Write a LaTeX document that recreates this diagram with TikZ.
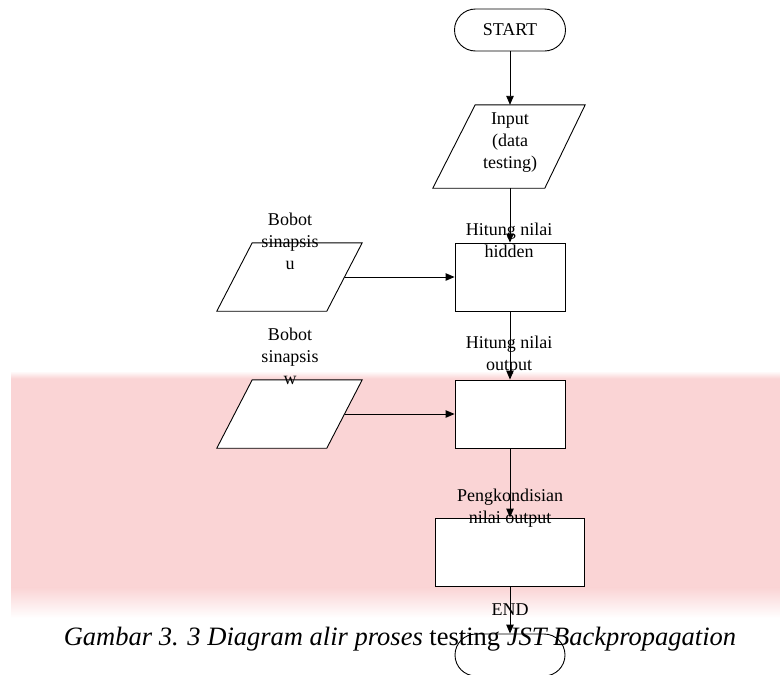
\documentclass[tikz,border=0pt]{standalone}
\usepackage{fontspec}
\setmainfont{Liberation Serif}
\usetikzlibrary{arrows.meta,calc,shapes.misc}
\definecolor{pinkbg}{RGB}{250,212,213}
\begin{document}
\begin{tikzpicture}[x=1pt,y=-1pt,
  every node/.style={font=\fontsize{18}{22}\selectfont},
  shapebox/.style={draw, fill=white, line width=0.9pt, inner sep=0pt},
  term/.style={draw, fill=white, line width=0.9pt, rounded rectangle, inner sep=0pt, minimum width=111pt, minimum height=42pt},
  ghost/.style={inner sep=0pt},
  lbl/.style={align=center, inner sep=0pt},
  flow/.style={line width=0.9pt, -{Triangle[length=9pt,width=7.5pt]}}]
\useasboundingbox (0,0) rectangle (780,675);
\fill[white] (0,0) rectangle (780,675);
% background watermark
\fill[pinkbg] (11,378) rectangle (780,588);
\shade[top color=white, bottom color=pinkbg] (11,371) rectangle (780,378.5);
\shade[top color=pinkbg, bottom color=white] (11,587.5) rectangle (780,618);

% START
\node[term] (start) at (510,30) {START};

% Input parallelogram
\node[ghost, minimum width=152pt, minimum height=83pt] (inp) at (509,146.5) {};
\draw[shapebox] (inp.south west) -- ($(inp.south west)+(112,0)$) -- (inp.north east) -- ($(inp.north east)+(-110,0)$) -- cycle;
\node[lbl] (inptxt) at (510,143) {Input\\(data\\testing)};
\coordinate (inpbot) at (510,188);

% Hitung nilai hidden
\node[shapebox, minimum width=110pt, minimum height=68pt] (hid) at (510,277) {};
\node[lbl] (hidtxt) at (509,240) {Hitung nilai\\hidden};

% Bobot sinapsis u
\node[ghost, minimum width=145pt, minimum height=68pt] (bu) at (289.5,277) {};
\draw[shapebox] (bu.south west) -- ($(bu.south west)+(110,0)$) -- (bu.north east) -- ($(bu.north east)+(-110,0)$) -- cycle;
\coordinate (buR) at ($(bu.east)+(-17.5,0)$);
\node[lbl] (butxt) at (290,241) {Bobot\\sinapsis\\u};

% Hitung nilai output
\node[shapebox, minimum width=110pt, minimum height=68pt] (out) at (510,414) {};
\node[lbl] (outtxt) at (509,355) {Hitung nilai\\output};

% Bobot sinapsis w
\node[ghost, minimum width=145pt, minimum height=68pt] (bw) at (289.5,414) {};
\draw[shapebox] (bw.south west) -- ($(bw.south west)+(110,0)$) -- (bw.north east) -- ($(bw.north east)+(-110,0)$) -- cycle;
\coordinate (bwR) at ($(bw.east)+(-17.5,0)$);
\node[lbl] (bwtxt) at (290,356) {Bobot\\sinapsis\\w};

% Pengkondisian
\node[shapebox, minimum width=149pt, minimum height=68pt] (kond) at (510,552) {};
\node[lbl] (kondtxt) at (510,508) {Pengkondisian\\nilai output};

% END
\node[term, minimum width=110pt] (end) at (510,655) {};
\node[lbl] (endtxt) at (510,610) {END};

% connectors
\draw[flow] (start.south) -- (inp.north -| start.south);
\draw[flow] (inpbot) -- (hid.north);
\draw[flow] (buR) -- (hid.west |- buR);
\draw[flow] (hid.south) -- (out.north);
\draw[flow] (bwR) -- (out.west |- bwR);
\draw[flow] (out.south) -- (kond.north);
\draw[flow] (kond.south) -- (end.north);

% caption
\node[inner sep=0pt, font=\fontsize{26.5}{30}\selectfont] (cap) at (400,639) {\itshape Gambar 3. 3 Diagram alir proses \upshape testing \itshape JST Backpropagation};
\end{tikzpicture}
\end{document}
